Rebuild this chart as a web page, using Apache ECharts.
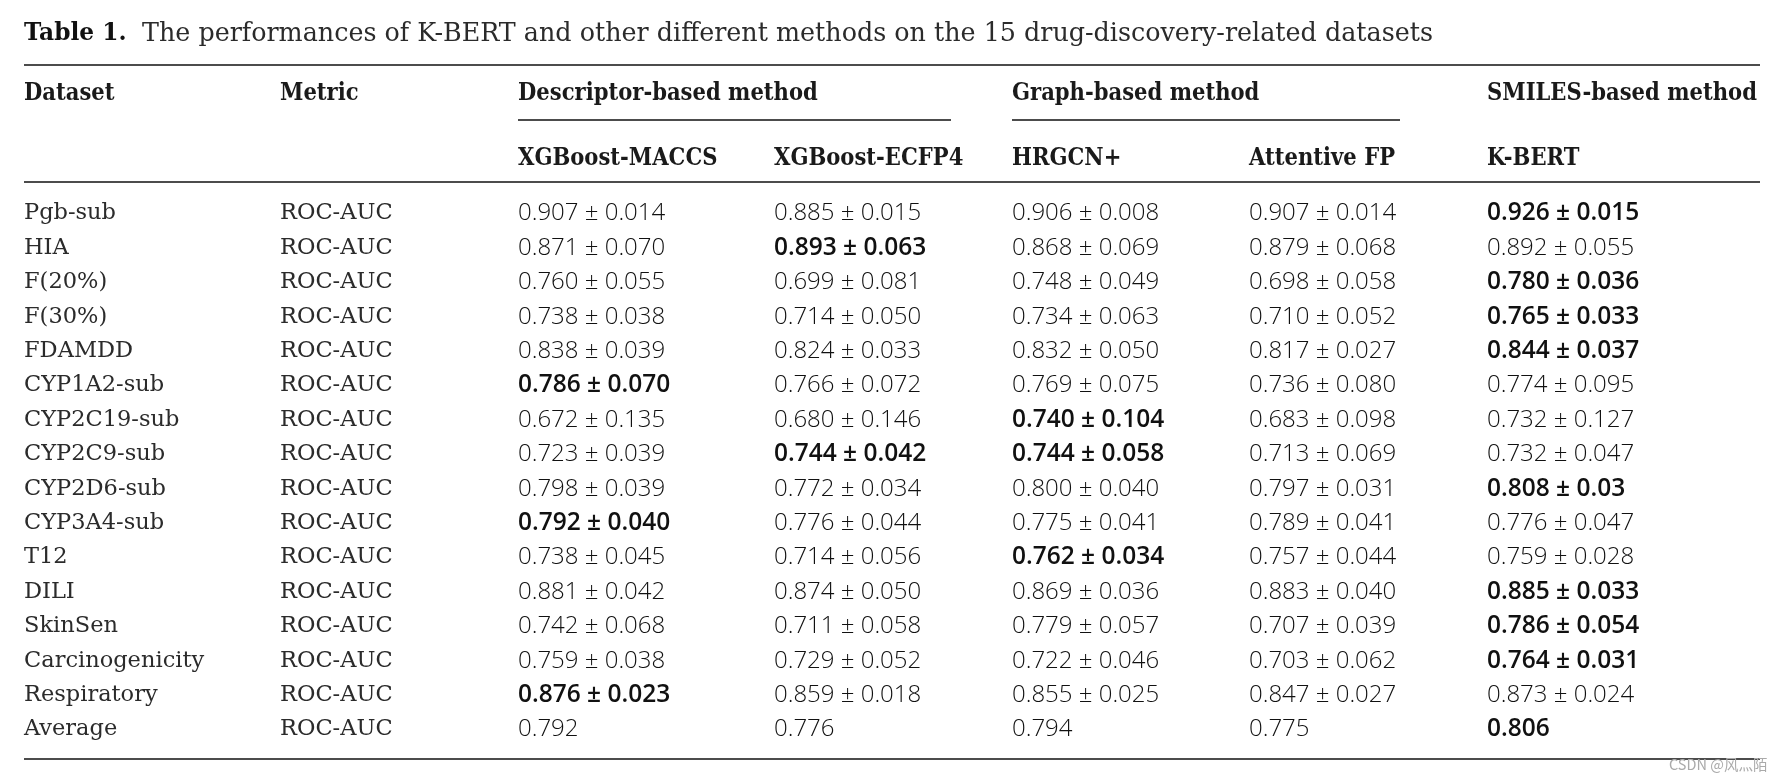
<!DOCTYPE html>
<html>
<head>
<meta charset="utf-8">
<script src="https://cdn.jsdelivr.net/npm/echarts@6/dist/echarts.min.js"></script>
<style>
html,body{margin:0;padding:0;background:#fff;}
#main{width:1785px;height:779px;}
</style>
</head>
<body>
<div id="main"></div>
<script>
// ---- data ----
const titleBold = 'Table 1.';
const titleText = 'The performances of K-BERT and other different methods on the 15 drug-discovery-related datasets';
const groupHeaders = ['Descriptor-based method', 'Graph-based method', 'SMILES-based method'];
const fixedHeaders = ['Dataset', 'Metric'];
const methodHeaders = ['XGBoost-MACCS', 'XGBoost-ECFP4', 'HRGCN+', 'Attentive FP', 'K-BERT'];
const datasets = ['Pgb-sub','HIA','F(20%)','F(30%)','FDAMDD','CYP1A2-sub','CYP2C19-sub','CYP2C9-sub','CYP2D6-sub','CYP3A4-sub','T12','DILI','SkinSen','Carcinogenicity','Respiratory','Average'];
const metric = 'ROC-AUC';

const xgbMaccsMean = [0.907,0.871,0.760,0.738,0.838,0.786,0.672,0.723,0.798,0.792,0.738,0.881,0.742,0.759,0.876,0.792];
const xgbMaccsStd  = ['0.014','0.070','0.055','0.038','0.039','0.070','0.135','0.039','0.039','0.040','0.045','0.042','0.068','0.038','0.023',null];
const xgbEcfpMean  = [0.885,0.893,0.699,0.714,0.824,0.766,0.680,0.744,0.772,0.776,0.714,0.874,0.711,0.729,0.859,0.776];
const xgbEcfpStd   = ['0.015','0.063','0.081','0.050','0.033','0.072','0.146','0.042','0.034','0.044','0.056','0.050','0.058','0.052','0.018',null];
const hrgcnMean    = [0.906,0.868,0.748,0.734,0.832,0.769,0.740,0.744,0.800,0.775,0.762,0.869,0.779,0.722,0.855,0.794];
const hrgcnStd     = ['0.008','0.069','0.049','0.063','0.050','0.075','0.104','0.058','0.040','0.041','0.034','0.036','0.057','0.046','0.025',null];
const attFpMean    = [0.907,0.879,0.698,0.710,0.817,0.736,0.683,0.713,0.797,0.789,0.757,0.883,0.707,0.703,0.847,0.775];
const attFpStd     = ['0.014','0.068','0.058','0.052','0.027','0.080','0.098','0.069','0.031','0.041','0.044','0.040','0.039','0.062','0.027',null];
const kbertMean    = [0.926,0.892,0.780,0.765,0.844,0.774,0.732,0.732,0.808,0.776,0.759,0.885,0.786,0.764,0.873,0.806];
const kbertStd     = ['0.015','0.055','0.036','0.033','0.037','0.095','0.127','0.047','0.03','0.047','0.028','0.033','0.054','0.031','0.024',null];
const watermark = 'CSDN @风灬陌';

// ---- layout ----
const W = 1785, H = 779;
const colX = [24, 280, 518, 774, 1012, 1249, 1487];
const ruleLeft = 24, ruleRight = 1760;
const serif = '"DejaVu Serif", serif';
const sans = '"Open Sans", "Noto Sans", sans-serif';
const dataFont = 24;
const boldFont = 24.5;
const rowFont = 22.5;
const serifColor = '#2b2b2b';

const means = [xgbMaccsMean, xgbEcfpMean, hrgcnMean, attFpMean, kbertMean];
const stds = [xgbMaccsStd, xgbEcfpStd, hrgcnStd, attFpStd, kbertStd];

const cells = [];
datasets.forEach((d, r) => {
  cells.push({ value: [colX[0], d], text: d, kind: 'label' });
  cells.push({ value: [colX[1], d], text: metric, kind: 'label' });
  const rowMax = Math.max(...means.map(m => m[r]));
  means.forEach((m, c) => {
    const s = stds[c][r];
    const txt = m[r].toFixed(3) + (s ? ' \u00B1 ' + s : '');
    cells.push({ value: [colX[c + 2], d], text: txt, kind: m[r] === rowMax ? 'bold' : 'num' });
  });
});

const chart = echarts.init(document.getElementById('main'), null, { renderer: 'canvas' });

const rowStep = 34.4, firstRowY = 213.5;
const gridTop = firstRowY - rowStep / 2;
const gridHeight = rowStep * datasets.length;

const graphics = [
  { type: 'text', x: 24, y: 34, style: {
      text: titleBold, fontFamily: serif, fontWeight: 'bold', fontSize: 23.3, fill: '#111', textVerticalAlign: 'middle' } },
  { type: 'text', x: 142, y: 34, style: {
      text: titleText, fontFamily: serif, fontSize: 25.4, fill: serifColor, textVerticalAlign: 'middle' } },
  { type: 'line', shape: { x1: ruleLeft, y1: 65, x2: ruleRight, y2: 65 }, style: { stroke: '#111', lineWidth: 1.6 } },
  { type: 'line', shape: { x1: 518, y1: 120, x2: 951, y2: 120 }, style: { stroke: '#111', lineWidth: 1.3 } },
  { type: 'line', shape: { x1: 1012, y1: 120, x2: 1400, y2: 120 }, style: { stroke: '#111', lineWidth: 1.3 } },
  { type: 'line', shape: { x1: ruleLeft, y1: 182, x2: ruleRight, y2: 182 }, style: { stroke: '#111', lineWidth: 1.6 } },
  { type: 'line', shape: { x1: ruleLeft, y1: 759, x2: ruleRight, y2: 759 }, style: { stroke: '#111', lineWidth: 1.6 } },
  { type: 'text', x: 1669, y: 764, z: 10, style: { text: watermark, fontFamily: '"Noto Sans CJK SC", sans-serif', fontSize: 14.5, fill: '#aaa', textVerticalAlign: 'middle' } }
];
const headerStyle = { fontFamily: serif, fontWeight: 'bold', fontSize: 24, fill: '#1a1a1a', textVerticalAlign: 'middle' };
const headerScale = 0.88;
fixedHeaders.forEach((h, i) => graphics.push({ type: 'text', x: colX[i], y: 93.5, scaleX: headerScale, style: Object.assign({ text: h }, headerStyle) }));
groupHeaders.forEach((h, i) => graphics.push({ type: 'text', x: colX[[2, 4, 6][i]], y: 93.5, scaleX: headerScale, style: Object.assign({ text: h }, headerStyle) }));
methodHeaders.forEach((h, i) => graphics.push({ type: 'text', x: colX[i + 2], y: 158.5, scaleX: headerScale, style: Object.assign({ text: h }, headerStyle) }));

chart.setOption({
  animation: false,
  backgroundColor: '#fff',
  grid: { left: 0, right: 0, top: gridTop, height: gridHeight, containLabel: false },
  xAxis: { type: 'value', min: 0, max: W, show: false },
  yAxis: { type: 'category', data: datasets, inverse: true, show: false },
  graphic: graphics,
  series: [{
    type: 'custom',
    coordinateSystem: 'cartesian2d',
    data: cells,
    renderItem: function (params, api) {
      const item = cells[params.dataIndex];
      const p = api.coord([api.value(0), api.value(1)]);
      const isLabel = item.kind === 'label';
      const isBold = item.kind === 'bold';
      return {
        type: 'text',
        x: p[0], y: p[1],
        style: {
          text: item.text,
          fontFamily: isLabel ? serif : sans,
          fontSize: isLabel ? rowFont : (isBold ? boldFont : dataFont),
          fontWeight: isBold ? 600 : (isLabel ? 'normal' : 300),
          fill: isLabel ? serifColor : '#111',
          textAlign: 'left',
          textVerticalAlign: 'middle'
        }
      };
    }
  }]
});
</script>
</body>
</html>
